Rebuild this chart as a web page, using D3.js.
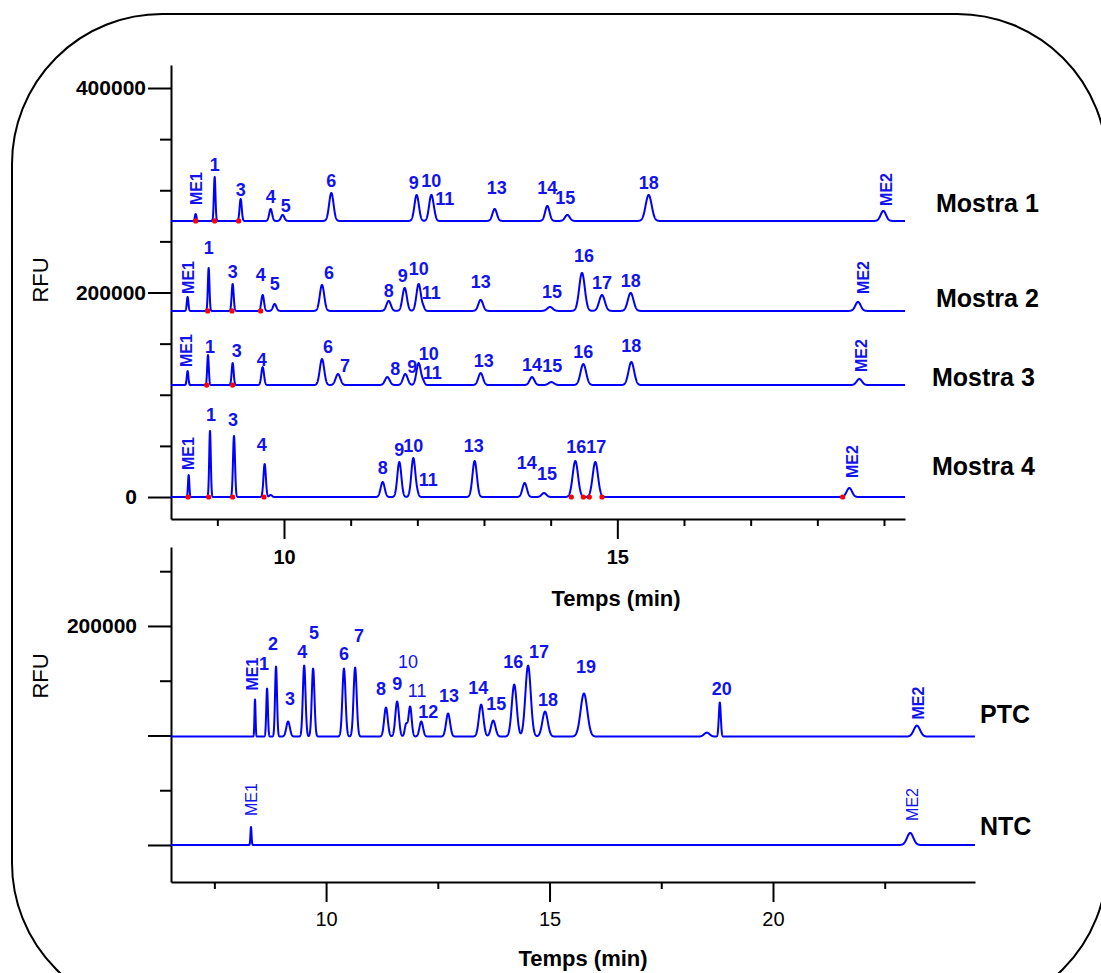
<!DOCTYPE html>
<html>
<head>
<meta charset="utf-8">
<script src="https://cdn.jsdelivr.net/npm/d3@7"></script>
<style>
  body { margin: 0; background: #fff; }
  svg { display: block; font-family: "Liberation Sans", Arial, sans-serif; }
</style>
</head>
<body>
<svg width="1101" height="973"></svg>
<script>
(function (d3) {
  'use strict';

  // ---- data (time in min, height in RFU) ----
  var m1Names   = ["ME1","1","3","4","5","6","9","10","11","13","14","15","18","ME2"];
  var m1Times   = [8.675,8.96,9.35,9.80,9.98,10.71,11.99,12.21,12.26,13.16,13.95,14.25,15.47,18.99];
  var m1Heights = [6800,43000,21500,11700,5900,27400,25400,25400,2000,11700,14700,5900,25400,9800];
  var m1Widths  = [0.012,0.012,0.016,0.022,0.025,0.033,0.033,0.033,0.02,0.033,0.033,0.035,0.045,0.04];
  var m1Offset  = 270000;
  var m1Marks   = [8.675,8.96,9.32];

  var m2Names   = ["ME1","1","3","4","5","6","8","9","10","11","13","15","16","17","18","ME2"];
  var m2Times   = [8.554,8.87,9.23,9.68,9.86,10.57,11.57,11.81,12.02,12.09,12.95,13.99,14.47,14.77,15.20,18.61];
  var m2Heights = [13700,42000,26400,15600,6800,25400,9800,22500,26400,2900,10800,3900,37200,15600,17600,8800];
  var m2Widths  = [0.012,0.012,0.015,0.02,0.025,0.033,0.033,0.033,0.033,0.02,0.035,0.04,0.042,0.042,0.042,0.04];
  var m2Offset  = 182000;
  var m2Marks   = [8.855,9.22,9.65];

  var m3Names   = ["ME1","1","3","4","6","7","8","9","10","11","13","14","15","16","18","ME2"];
  var m3Times   = [8.554,8.86,9.23,9.68,10.57,10.81,11.55,11.82,12.02,12.09,12.95,13.72,14.01,14.49,15.21,18.63];
  var m3Heights = [13700,29300,21500,17600,25400,10800,7800,10800,21500,2900,11700,7800,2900,20500,22500,5900];
  var m3Widths  = [0.012,0.012,0.015,0.02,0.033,0.035,0.035,0.035,0.033,0.02,0.035,0.035,0.04,0.042,0.042,0.04];
  var m3Offset  = 109500;
  var m3Marks   = [8.84,9.23];

  var m4Names   = ["ME1","1","3","4","","8","9","10","11","13","14","15","16","17","ME2"];
  var m4Times   = [8.57,8.89,9.25,9.71,9.80,11.48,11.73,11.94,12.0,12.86,13.61,13.90,14.37,14.67,18.48];
  var m4Heights = [21500,64500,59700,32300,2000,14700,34200,38100,2900,35200,13700,3900,35200,34200,8800];
  var m4Widths  = [0.01,0.012,0.015,0.018,0.02,0.03,0.03,0.03,0.02,0.033,0.033,0.035,0.04,0.04,0.04];
  var m4Offset  = 0;
  var m4Marks   = [8.56,8.87,9.23,9.70,14.31,14.49,14.58,14.77,18.38];

  var ptcNames   = ["ME1","1","2","3","4","5","6","7","8","9","10","11","12","13","14","15","16","17","18","19","","20","ME2"];
  var ptcTimes   = [8.41,8.68,8.88,9.15,9.51,9.71,10.40,10.65,11.34,11.59,11.79,11.88,12.13,12.73,13.47,13.74,14.21,14.52,14.90,15.77,18.52,18.81,23.22];
  var ptcHeights = [33800,43800,63900,13700,64800,62100,62100,63000,26500,32000,11000,27400,13700,21000,29200,14600,47500,64800,22800,39300,3600,31000,10000];
  var ptcWidths  = [0.012,0.018,0.022,0.04,0.03,0.03,0.035,0.035,0.04,0.04,0.03,0.035,0.04,0.045,0.05,0.05,0.055,0.06,0.06,0.075,0.06,0.022,0.07];
  var ptcOffset  = 99000;

  var ntcNames   = ["ME1","ME2"];
  var ntcTimes   = [8.32,23.07];
  var ntcHeights = [16400,11000];
  var ntcWidths  = [0.012,0.07];
  var ntcOffset  = 0;

  var topTicksY = d3.range(0, 400001, 50000);
  var topTicksX = d3.range(9, 20, 1);
  var botTicksY = d3.range(0, 250001, 50000);
  var botTicksX = [7.5, 10, 12.5, 15, 17.5, 20, 22.5];

  var sampleNames = ["Mostra 1","Mostra 2","Mostra 3","Mostra 4"];

  // ---- layout ----
  var svg = d3.select('svg');
  var blue = '#0000ff';
  var textBlue = '#1212ee';

  var xTop = d3.scaleLinear().domain([8.305, 19.315]).range([171, 905]);
  var yTop = d3.scaleLinear().domain([-21500, 422500]).range([519, 65]);
  var xBot = d3.scaleLinear().domain([6.53, 24.52]).range([171, 975]);
  var yBot = d3.scaleLinear().domain([-33800, 272100]).range([882, 547]);

  // label nudges in px [dx, dy]
  var nudge = {
    'M1:ME1':[1,-3],'M1:3':[0,3],'M1:5':[3,3],'M1:9':[-3,0],'M1:10':[0,-2],'M1:11':[10,0],
    'M1:13':[2,-9],'M1:14':[0,-6],'M1:15':[-2,-5],'M1:ME2':[3,1],
    'M2:ME1':[1,3],'M2:1':[0,-8],'M2:4':[-2,-8],'M2:5':[0,-8],'M2:6':[7,0],'M2:8':[0,2],
    'M2:9':[-2,0],'M2:10':[0,-3],'M2:11':[8,0],'M2:13':[0,-6],'M2:15':[2,-3],'M2:16':[2,-5],'M2:ME2':[5,-2],
    'M3:ME1':[-1,2],'M3:1':[2,4],'M3:3':[4,0],'M3:4':[-1,5],'M3:6':[6,0],'M3:7':[7,4],'M3:8':[8,4],
    'M3:9':[7,5],'M3:10':[10,3],'M3:11':[9,5],'M3:13':[3,0],'M3:15':[1,-4],'M3:18':[0,-4],'M3:ME2':[2,-1],
    'M4:ME1':[0,1],'M4:1':[1,-4],'M4:3':[-1,-4],'M4:4':[-3,-7],'M4:8':[0,-2],'M4:11':[11,3],
    'M4:13':[-1,-3],'M4:14':[2,-8],'M4:15':[3,-7],'M4:16':[1,-2],'M4:17':[1,-3],'M4:ME2':[3,-4],
    'PTC:ME1':[-3,-3],'PTC:1':[-3,-13],'PTC:2':[-3,-11],'PTC:3':[2,-11],'PTC:4':[-2,-2],'PTC:5':[1,-24],
    'PTC:6':[0,-3],'PTC:7':[4,-20],'PTC:8':[-5,-7],'PTC:9':[0,-6],'PTC:10':[2,-49],'PTC:11':[7,-3],
    'PTC:12':[7,2],'PTC:13':[1,-6],'PTC:14':[-3,-5],'PTC:15':[3,-5],'PTC:16':[-1,-11],'PTC:17':[11,-2],
    'PTC:18':[3,0],'PTC:19':[2,-15],'PTC:20':[2,-2],'PTC:ME2':[1,0],
    'NTC:ME1':[0,-5],'NTC:ME2':[2,-6]
  };
  var thinLabels = { 'PTC:10':1, 'PTC:11':1, 'NTC:ME1':1, 'NTC:ME2':1 };

  var traces = [
    { id:'M1', names:m1Names, times:m1Times, heights:m1Heights, widths:m1Widths, offset:m1Offset, marks:m1Marks, x:xTop, y:yTop },
    { id:'M2', names:m2Names, times:m2Times, heights:m2Heights, widths:m2Widths, offset:m2Offset, marks:m2Marks, x:xTop, y:yTop },
    { id:'M3', names:m3Names, times:m3Times, heights:m3Heights, widths:m3Widths, offset:m3Offset, marks:m3Marks, x:xTop, y:yTop },
    { id:'M4', names:m4Names, times:m4Times, heights:m4Heights, widths:m4Widths, offset:m4Offset, marks:m4Marks, x:xTop, y:yTop },
    { id:'PTC', names:ptcNames, times:ptcTimes, heights:ptcHeights, widths:ptcWidths, offset:ptcOffset, marks:[], x:xBot, y:yBot },
    { id:'NTC', names:ntcNames, times:ntcTimes, heights:ntcHeights, widths:ntcWidths, offset:ntcOffset, marks:[], x:xBot, y:yBot }
  ];

  // signal of a trace at time t (sum of its peaks)
  function signal(tr, t) {
    var v = tr.offset;
    tr.times.forEach(function (ti, i) {
      var z = (t - ti) / tr.widths[i];
      if (Math.abs(z) < 8) v += tr.heights[i] * Math.exp(-0.5 * z * z);
    });
    return v;
  }

  function tracePoints(tr) {
    var dom = tr.x.domain();
    var ts = d3.range(dom[0], dom[1], 0.002).concat(tr.times).sort(d3.ascending);
    return ts.map(function (t) { return [t, signal(tr, t)]; });
  }

  // frame
  svg.append('rect')
      .attr('x', 12).attr('y', 14)
      .attr('width', 1095).attr('height', 999)
      .attr('rx', 150).attr('ry', 150)
      .attr('fill', 'none')
      .attr('stroke', '#000')
      .attr('stroke-width', 2);

  // ---- axes ----
  function styleAxis(g) {
    g.selectAll('path, line').attr('stroke', '#000').attr('stroke-width', 2);
    g.selectAll('text').attr('fill', '#000');
  }

  // top y
  var gyT = svg.append('g').attr('transform', 'translate(171,0)')
      .call(d3.axisLeft(yTop).tickValues(topTicksY).tickSize(11).tickSizeOuter(0)
        .tickFormat(function (d) { return d % 200000 === 0 ? d : ''; }));
  gyT.selectAll('.tick line').attr('x2', function (d) { return d % 200000 === 0 ? -23 : -11; });
  gyT.selectAll('.tick text').attr('x', function (d) { return d === 0 ? -34 : -25; })
      .attr('font-size', 21).attr('font-weight', 'bold');
  styleAxis(gyT);

  // top x
  var gxT = svg.append('g').attr('transform', 'translate(0,519)')
      .call(d3.axisBottom(xTop).tickValues(topTicksX).tickSize(7).tickSizeOuter(0)
        .tickFormat(function (d) { return d % 5 === 0 ? d : ''; }));
  gxT.selectAll('.tick line').attr('y2', function (d) { return d % 5 === 0 ? 20 : 7; });
  gxT.selectAll('.tick text').attr('y', 31).attr('font-size', 20).attr('font-weight', 'bold');
  styleAxis(gxT);

  // bottom y
  var gyB = svg.append('g').attr('transform', 'translate(171,0)')
      .call(d3.axisLeft(yBot).tickValues(botTicksY).tickSize(11).tickSizeOuter(0)
        .tickFormat(function (d) { return d === 200000 ? d : ''; }));
  gyB.selectAll('.tick line').attr('x2', function (d) { return d % 100000 === 0 ? -23 : -11; });
  gyB.selectAll('.tick text').attr('x', -34).attr('font-size', 21).attr('font-weight', 'bold');
  styleAxis(gyB);

  // bottom x
  var gxB = svg.append('g').attr('transform', 'translate(0,882)')
      .call(d3.axisBottom(xBot).tickValues(botTicksX).tickSize(7).tickSizeOuter(0)
        .tickFormat(function (d) { return d % 5 === 0 ? d : ''; }));
  gxB.selectAll('.tick line').attr('y2', function (d) { return d % 5 === 0 ? 20 : 7; });
  gxB.selectAll('.tick text').attr('y', 30).attr('font-size', 20);
  styleAxis(gxB);

  // axis titles
  [[40, 280], [40, 676]].forEach(function (p) {
    svg.append('text')
        .attr('transform', 'translate(' + p[0] + ',' + p[1] + ') rotate(-90)')
        .attr('text-anchor', 'middle').attr('dy', '0.35em')
        .attr('font-size', 22)
        .text('RFU');
  });
  [[616, 598], [583, 958]].forEach(function (p) {
    svg.append('text')
        .attr('x', p[0]).attr('y', p[1])
        .attr('text-anchor', 'middle').attr('dy', '0.35em')
        .attr('font-size', 22).attr('font-weight', 'bold')
        .text('Temps (min)');
  });

  // ---- traces ----
  traces.forEach(function (tr) {
    var line = d3.line()
        .x(function (d) { return tr.x(d[0]); })
        .y(function (d) { return tr.y(d[1]); });

    svg.append('path')
        .datum(tracePoints(tr))
        .attr('d', line)
        .attr('fill', 'none')
        .attr('stroke', blue)
        .attr('stroke-width', 2)
        .attr('stroke-linejoin', 'round');

    svg.append('g').selectAll('circle')
        .data(tr.marks)
        .enter()
        .append('circle')
        .attr('cx', function (d) { return tr.x(d); })
        .attr('cy', tr.y(tr.offset))
        .attr('r', 2.6)
        .attr('fill', '#ff0000');

    var lab = svg.append('g');
    tr.names.forEach(function (name, i) {
      if (!name) return;
      var key = tr.id + ':' + name;
      var nd = nudge[key] || [0, 0];
      var px = tr.x(tr.times[i]) + nd[0];
      var top = tr.y(signal(tr, tr.times[i]));
      var weight = thinLabels[key] ? 'normal' : 'bold';
      if (name.indexOf('ME') === 0) {
        lab.append('text')
            .attr('transform', 'translate(' + px + ',' + (top - 6 + nd[1]) + ') rotate(-90)')
            .attr('dy', '0.35em')
            .attr('font-size', 16).attr('font-weight', weight)
            .attr('fill', textBlue)
            .text(name);
      } else {
        lab.append('text')
            .attr('x', px).attr('y', top - 6 + nd[1])
            .attr('text-anchor', 'middle')
            .attr('font-size', 18).attr('font-weight', weight)
            .attr('fill', textBlue)
            .text(name);
      }
    });
  });

  // sample names
  var namePos = [[936, 203], [936, 298], [932, 377], [932, 466], [980, 714], [980, 826]];
  sampleNames.concat(['PTC', 'NTC']).forEach(function (n, i) {
    svg.append('text')
        .attr('x', namePos[i][0]).attr('y', namePos[i][1])
        .attr('dy', '0.35em')
        .attr('font-size', 25).attr('font-weight', 'bold')
        .attr('fill', '#000')
        .text(n);
  });

}(d3));
</script>
</body>
</html>
